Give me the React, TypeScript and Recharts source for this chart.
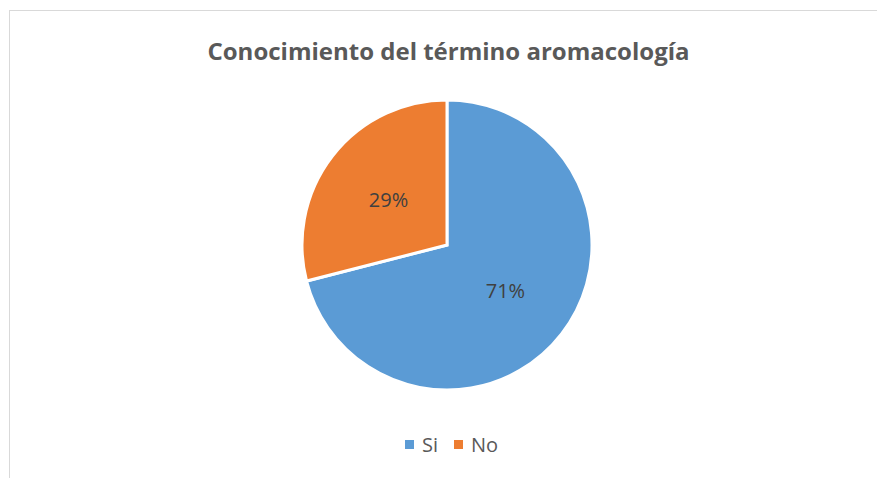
import React from "react";
import { PieChart, Pie, Cell, Legend } from "recharts";

const categories = ["Si", "No"];
const values = [71, 29];
const colors = ["#5B9BD5", "#ED7D31"];
const title = "Conocimiento del término aromacología";

const data = categories.map((name, i) => ({ name, value: values[i] }));

const RAD = Math.PI / 180;
const renderLabel = (props: any) => {
  const { cx, cy, midAngle, outerRadius, value } = props;
  const r = outerRadius * 0.51;
  const x = cx + r * Math.cos(-midAngle * RAD);
  const y = cy + r * Math.sin(-midAngle * RAD);
  return (
    <text
      x={x}
      y={y}
      fill="#404040"
      textAnchor="middle"
      dominantBaseline="central"
      fontSize={20}
      fontFamily="'Open Sans', sans-serif"
    >
      {`${value}%`}
    </text>
  );
};

const renderLegend = () => (
  <div
    style={{
      display: "flex",
      justifyContent: "center",
      alignItems: "center",
      fontFamily: "'Open Sans', sans-serif",
      fontSize: 20,
      color: "#595959",
    }}
  >
    {data.map((d, i) => (
      <div key={d.name} style={{ display: "flex", alignItems: "center", marginRight: i === 0 ? 16 : 0 }}>
        <span
          style={{
            display: "inline-block",
            width: 9,
            height: 9,
            background: colors[i],
            marginRight: 8,
          }}
        />
        <span>{d.name}</span>
      </div>
    ))}
  </div>
);

export default function App() {
  return (
    <div
      style={{
        position: "absolute",
        left: 0,
        top: 0,
        width: 877,
        height: 478,
        background: "#fff",
        overflow: "hidden",
      }}
    >
      <div
        style={{
          position: "absolute",
          left: 9,
          top: 10,
          width: 900,
          height: 500,
          border: "1px solid #d9d9d9",
          boxSizing: "border-box",
        }}
      />
      <div
        style={{
          position: "absolute",
          left: 0,
          top: 36,
          width: 897,
          textAlign: "center",
          fontFamily: "'Open Sans', sans-serif",
          fontWeight: 700,
          fontSize: 24,
          color: "#595959",
          lineHeight: "30px",
        }}
      >
        {title}
      </div>
      <div style={{ position: "absolute", left: 0, top: 0 }}>
        <PieChart width={877} height={478} margin={{ top: 0, right: 0, bottom: 0, left: 0 }}>
          <Pie
            data={data}
            dataKey="value"
            nameKey="name"
            cx={447}
            cy={245}
            outerRadius={145}
            startAngle={90}
            endAngle={-270}
            stroke="#ffffff"
            strokeWidth={3}
            label={renderLabel}
            labelLine={false}
            isAnimationActive={false}
          >
            {data.map((d, i) => (
              <Cell key={d.name} fill={colors[i]} />
            ))}
          </Pie>
          <Legend
            content={renderLegend}
            verticalAlign="bottom"
            wrapperStyle={{ top: 431, bottom: "auto", left: 0, width: 903 }}
          />
        </PieChart>
      </div>
    </div>
  );
}
